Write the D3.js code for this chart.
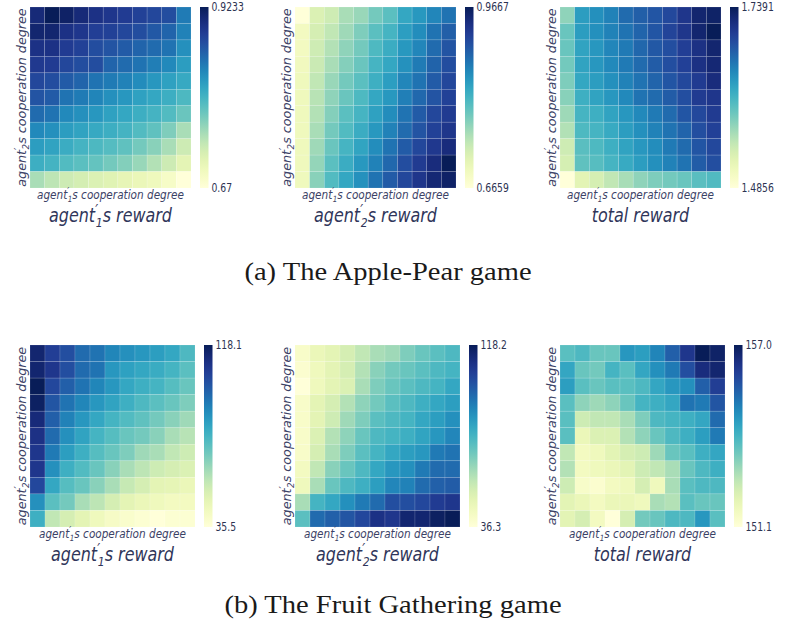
<!DOCTYPE html>
<html>
<head>
<meta charset="utf-8">
<script src="https://cdn.jsdelivr.net/npm/d3@7"></script>
<style>
  body { margin: 0; background: #fff; }
  svg { display: block; }
</style>
</head>
<body>
<svg id="fig" width="790" height="638"></svg>
<script>
// cooperation degree levels (hidden ticks), 11 x 11 grid
var coopDegrees = ["0.0", "0.1", "0.2", "0.3", "0.4", "0.5", "0.6", "0.7", "0.8", "0.9", "1.0"];

// rows: top row first (agent2 cooperation, high -> low), cols: agent1 cooperation low -> high
// Apple-Pear game
var apAgent1Reward = [
  [0.906, 0.9233, 0.916, 0.906, 0.898, 0.893, 0.888, 0.883, 0.878, 0.873, 0.842],
  [0.911, 0.911, 0.898, 0.893, 0.885, 0.883, 0.878, 0.873, 0.865, 0.857, 0.837],
  [0.898, 0.898, 0.888, 0.883, 0.873, 0.868, 0.863, 0.857, 0.852, 0.847, 0.827],
  [0.890, 0.888, 0.878, 0.873, 0.873, 0.857, 0.852, 0.847, 0.840, 0.832, 0.817],
  [0.878, 0.873, 0.863, 0.857, 0.847, 0.842, 0.837, 0.830, 0.822, 0.814, 0.807],
  [0.868, 0.863, 0.847, 0.842, 0.835, 0.827, 0.822, 0.814, 0.809, 0.802, 0.792],
  [0.852, 0.847, 0.832, 0.827, 0.822, 0.814, 0.809, 0.802, 0.797, 0.789, 0.776],
  [0.832, 0.827, 0.817, 0.812, 0.807, 0.802, 0.797, 0.789, 0.781, 0.766, 0.746],
  [0.817, 0.812, 0.804, 0.797, 0.792, 0.787, 0.781, 0.771, 0.761, 0.746, 0.726],
  [0.802, 0.797, 0.789, 0.784, 0.779, 0.771, 0.764, 0.754, 0.741, 0.726, 0.708],
  [0.746, 0.736, 0.726, 0.721, 0.716, 0.711, 0.705, 0.700, 0.695, 0.685, 0.670]
];
var apAgent2Reward = [
  [0.6659, 0.720, 0.732, 0.756, 0.765, 0.786, 0.801, 0.831, 0.846, 0.861, 0.876],
  [0.690, 0.726, 0.741, 0.762, 0.780, 0.801, 0.816, 0.840, 0.855, 0.876, 0.892],
  [0.690, 0.732, 0.750, 0.771, 0.786, 0.810, 0.825, 0.846, 0.861, 0.882, 0.901],
  [0.693, 0.735, 0.756, 0.777, 0.792, 0.816, 0.831, 0.852, 0.870, 0.889, 0.907],
  [0.696, 0.741, 0.765, 0.786, 0.801, 0.822, 0.840, 0.861, 0.876, 0.895, 0.913],
  [0.696, 0.747, 0.771, 0.792, 0.810, 0.831, 0.846, 0.867, 0.885, 0.901, 0.919],
  [0.696, 0.750, 0.777, 0.801, 0.816, 0.837, 0.855, 0.876, 0.895, 0.913, 0.925],
  [0.696, 0.756, 0.786, 0.807, 0.825, 0.846, 0.864, 0.882, 0.901, 0.919, 0.931],
  [0.696, 0.762, 0.792, 0.816, 0.834, 0.855, 0.876, 0.895, 0.913, 0.928, 0.943],
  [0.696, 0.768, 0.801, 0.825, 0.846, 0.864, 0.885, 0.907, 0.925, 0.943, 0.9667],
  [0.696, 0.774, 0.807, 0.831, 0.852, 0.876, 0.895, 0.913, 0.931, 0.949, 0.958]
];
var apTotalReward = [
  [1.574, 1.633, 1.643, 1.653, 1.668, 1.676, 1.683, 1.693, 1.709, 1.727, 1.731],
  [1.592, 1.633, 1.643, 1.653, 1.663, 1.673, 1.683, 1.696, 1.709, 1.727, 1.7391],
  [1.592, 1.628, 1.638, 1.650, 1.658, 1.671, 1.681, 1.688, 1.701, 1.714, 1.727],
  [1.587, 1.628, 1.638, 1.648, 1.658, 1.668, 1.678, 1.688, 1.699, 1.714, 1.724],
  [1.582, 1.625, 1.633, 1.643, 1.653, 1.663, 1.673, 1.683, 1.693, 1.704, 1.719],
  [1.577, 1.617, 1.628, 1.638, 1.648, 1.663, 1.668, 1.678, 1.688, 1.704, 1.709],
  [1.567, 1.612, 1.617, 1.628, 1.638, 1.648, 1.658, 1.668, 1.683, 1.693, 1.704],
  [1.557, 1.607, 1.612, 1.622, 1.633, 1.643, 1.653, 1.663, 1.673, 1.688, 1.699],
  [1.541, 1.600, 1.607, 1.617, 1.628, 1.638, 1.645, 1.658, 1.668, 1.683, 1.693],
  [1.536, 1.597, 1.602, 1.612, 1.622, 1.633, 1.643, 1.653, 1.663, 1.678, 1.688],
  [1.4856, 1.524, 1.536, 1.549, 1.562, 1.574, 1.582, 1.587, 1.592, 1.600, 1.605]
];

// Fruit Gathering game
var fgAgent1Reward = [
  [114.0, 105.7, 101.6, 95.0, 93.3, 89.2, 86.7, 85.1, 83.4, 80.9, 75.1],
  [114.0, 108.2, 101.6, 95.0, 93.3, 85.1, 82.6, 80.9, 79.3, 76.8, 72.7],
  [118.1, 103.2, 97.5, 93.3, 89.2, 85.1, 80.9, 78.5, 76.8, 73.5, 70.2],
  [116.4, 99.9, 93.3, 89.2, 85.1, 81.8, 78.5, 75.1, 72.7, 70.2, 66.9],
  [112.3, 97.5, 90.0, 85.1, 80.9, 76.8, 74.3, 71.8, 68.5, 65.2, 61.9],
  [109.8, 95.0, 86.7, 81.8, 76.8, 73.5, 70.2, 68.5, 65.2, 60.3, 57.8],
  [108.2, 91.7, 83.4, 78.5, 73.5, 70.2, 66.9, 61.9, 60.3, 56.2, 53.7],
  [108.2, 86.7, 78.5, 74.3, 70.2, 65.2, 60.3, 57.0, 53.7, 52.0, 50.4],
  [103.2, 80.9, 73.5, 70.2, 65.2, 60.3, 55.3, 52.0, 47.9, 47.1, 45.4],
  [86.7, 72.7, 68.5, 60.3, 57.0, 52.0, 47.9, 45.4, 43.8, 42.1, 42.1],
  [78.5, 56.2, 52.0, 47.9, 43.8, 40.5, 38.8, 37.2, 35.5, 37.2, 37.2]
];
var fgAgent2Reward = [
  [40.4, 46.1, 48.6, 52.7, 56.8, 60.9, 62.5, 67.4, 70.7, 73.2, 75.6],
  [38.8, 44.5, 48.6, 52.7, 59.2, 65.8, 69.1, 70.7, 73.2, 75.6, 77.3],
  [36.3, 44.5, 48.6, 51.0, 60.9, 67.4, 70.7, 73.2, 75.6, 77.3, 81.3],
  [40.4, 48.6, 52.7, 59.2, 65.0, 69.1, 73.2, 75.6, 78.9, 81.3, 83.8],
  [40.4, 48.6, 54.3, 62.5, 67.4, 73.2, 75.6, 77.3, 81.3, 83.8, 87.1],
  [40.4, 51.0, 59.2, 65.0, 70.7, 75.6, 77.3, 78.9, 82.2, 85.4, 89.5],
  [40.4, 52.7, 60.9, 67.4, 73.2, 77.3, 81.3, 83.8, 85.4, 92.0, 93.6],
  [42.9, 56.8, 65.8, 70.7, 75.6, 81.3, 85.4, 87.1, 92.0, 95.3, 95.3],
  [44.5, 60.9, 70.7, 75.6, 78.9, 83.8, 89.5, 90.4, 95.3, 97.7, 98.5],
  [60.9, 77.3, 81.3, 87.1, 92.0, 95.3, 101.8, 101.8, 103.5, 106.7, 108.4],
  [73.2, 95.3, 97.7, 100.2, 103.5, 110.0, 108.4, 114.1, 114.1, 116.6, 118.2]
];
var fgTotalReward = [
  [153.76, 153.93, 153.58, 153.58, 154.64, 154.52, 154.94, 155.53, 156.29, 157.00, 156.82],
  [154.35, 153.58, 153.46, 154.05, 153.76, 154.35, 154.76, 155.11, 155.82, 156.53, 156.71],
  [154.52, 153.76, 153.58, 153.76, 153.76, 153.93, 154.35, 154.64, 154.76, 155.53, 156.12],
  [153.76, 153.17, 152.99, 153.17, 153.58, 154.05, 154.17, 154.35, 155.23, 155.11, 155.70],
  [153.76, 152.40, 152.58, 152.58, 152.87, 153.34, 153.93, 154.05, 154.17, 154.35, 155.35],
  [153.76, 151.81, 152.16, 152.16, 152.75, 153.17, 153.58, 153.93, 154.17, 154.52, 155.11],
  [152.58, 151.57, 151.69, 151.99, 152.28, 152.40, 152.99, 153.58, 153.76, 154.17, 154.35],
  [152.75, 151.57, 151.69, 151.81, 151.99, 152.40, 152.58, 152.87, 153.58, 153.93, 154.17],
  [152.40, 151.40, 151.28, 151.57, 151.69, 152.28, 151.69, 152.87, 153.76, 153.93, 153.93],
  [151.99, 151.81, 151.57, 151.81, 151.81, 151.69, 152.87, 152.75, 153.76, 153.58, 153.58],
  [151.99, 152.28, 151.57, 151.10, 152.28, 153.46, 153.58, 153.93, 153.93, 154.64, 153.76]
];

// colorbar end labels (min, max)
var apAgent1Ticks = ["0.67", "0.9233"];
var apAgent2Ticks = ["0.6659", "0.9667"];
var apTotalTicks = ["1.4856", "1.7391"];
var fgAgent1Ticks = ["35.5", "118.1"];
var fgAgent2Ticks = ["36.3", "118.2"];
var fgTotalTicks = ["151.1", "157.0"];

var captions = ["(a) The Apple-Pear game", "(b) The Fruit Gathering game"];

// layout
var colX = [30, 295, 560];
var rowY = [7, 345];
var gridW = [161, 165], gridH = [181, 182];
var cbGap = 9, cbW = 8.5;
var labelColor = "#3c4266", titleColor = "#30365a", tickColor = "#2c3352";
var sansK = 0.84;   // horizontal squeeze of the sans text

var panels = [
  {values: apAgent1Reward, ticks: apAgent1Ticks, sub: "1", rest: "s reward", row: 0, col: 0},
  {values: apAgent2Reward, ticks: apAgent2Ticks, sub: "2", rest: "s reward", row: 0, col: 1},
  {values: apTotalReward, ticks: apTotalTicks, sub: null, rest: "total reward", row: 0, col: 2},
  {values: fgAgent1Reward, ticks: fgAgent1Ticks, sub: "1", rest: "s reward", row: 1, col: 0},
  {values: fgAgent2Reward, ticks: fgAgent2Ticks, sub: "2", rest: "s reward", row: 1, col: 1},
  {values: fgTotalReward, ticks: fgTotalTicks, sub: null, rest: "total reward", row: 1, col: 2}
];

var svg = d3.select("#fig");

// shared YlGnBu gradient for the colorbars
var grad = svg.append("defs").append("linearGradient")
    .attr("id", "ylgnbu")
    .attr("x1", 0).attr("y1", 1).attr("x2", 0).attr("y2", 0);
grad.selectAll("stop")
    .data(d3.range(0, 1.0001, 0.05))
  .enter().append("stop")
    .attr("offset", function(t) { return t; })
    .attr("stop-color", function(t) { return d3.interpolateYlGnBu(t); });

// text in a squeezed frame
function squeezed(parent, x, y, k, angle) {
  var tr = "translate(" + x + "," + y + ")" + (angle ? " rotate(" + angle + ")" : "") + " scale(" + k + ",1)";
  return parent.append("g").attr("transform", tr).append("text");
}

// agent'_n + rest, prime over the subscript
function agentText(text, sub, rest, fs) {
  text.append("tspan").text("agent");
  text.append("tspan").attr("font-size", fs * 0.8).attr("dy", -fs * 0.34).text("\u2032");
  text.append("tspan").attr("font-size", fs * 0.68).attr("dx", -fs * 0.14).attr("dy", fs * 0.6).text(sub);
  text.append("tspan").attr("dy", -fs * 0.26).text(rest);
}

panels.forEach(function(p) {
  var gx = colX[p.col], gy = rowY[p.row], w = gridW[p.row], h = gridH[p.row];
  var g = svg.append("g").attr("transform", "translate(" + gx + "," + gy + ")");

  var x = d3.scaleBand().domain(coopDegrees).range([0, w]);
  var y = d3.scaleBand().domain(coopDegrees.slice().reverse()).range([0, h]);
  var domain = p.ticks.map(Number);
  var color = d3.scaleSequential(d3.interpolateYlGnBu).domain(domain);

  var cells = [];
  p.values.forEach(function(row, i) {
    row.forEach(function(v, j) {
      cells.push({a2: coopDegrees[coopDegrees.length - 1 - i], a1: coopDegrees[j], v: v});
    });
  });

  g.selectAll("rect.cell")
      .data(cells)
    .enter().append("rect")
      .attr("class", "cell")
      .attr("x", function(d) { return x(d.a1); })
      .attr("y", function(d) { return y(d.a2); })
      .attr("width", x.bandwidth())
      .attr("height", y.bandwidth())
      .attr("fill", function(d) { return color(d.v); })
      .attr("stroke", "#ffffff")
      .attr("stroke-opacity", 0.22)
      .attr("stroke-width", 0.6);

  // colorbar
  var cbScale = d3.scaleLinear().domain(domain).range([h, 0]);
  var cb = g.append("g").attr("transform", "translate(" + (w + cbGap) + ",0)");
  cb.append("rect")
      .attr("width", cbW)
      .attr("height", h)
      .attr("fill", "url(#ylgnbu)");
  p.ticks.forEach(function(t) {
    squeezed(cb, cbW + 3, cbScale(+t), 0.77)
        .attr("font-family", "DejaVu Sans")
        .attr("font-size", 12)
        .attr("dominant-baseline", "central")
        .attr("fill", tickColor)
        .text(t);
  });

  // y label
  var yl = squeezed(g, -4, h / 2, 1.02, -90)
      .attr("font-family", "DejaVu Sans")
      .attr("font-style", "italic")
      .attr("font-size", 12.5)
      .attr("text-anchor", "middle")
      .attr("fill", labelColor);
  agentText(yl, "2", "s cooperation degree", 12.5);

  // x label
  var xl = squeezed(g, w / 2, h + 11, sansK)
      .attr("font-family", "DejaVu Sans")
      .attr("font-style", "italic")
      .attr("font-size", 12.5)
      .attr("text-anchor", "middle")
      .attr("fill", labelColor);
  agentText(xl, "1", "s cooperation degree", 12.5);

  // title under the panel
  var tl = squeezed(g, w / 2, h + 34, sansK)
      .attr("font-family", "DejaVu Sans")
      .attr("font-style", "italic")
      .attr("font-size", 19)
      .attr("text-anchor", "middle")
      .attr("fill", titleColor);
  if (p.sub) agentText(tl, p.sub, p.rest, 19);
  else tl.text(p.rest);
});

// sub-figure captions
var capPos = [[388, 280], [393, 613]];
captions.forEach(function(c, i) {
  squeezed(svg, capPos[i][0], capPos[i][1], 1.12)
      .attr("font-family", "'Liberation Serif', 'Times New Roman', serif")
      .attr("font-size", 25.5)
      .attr("text-anchor", "middle")
      .attr("fill", "#1a1a1a")
      .text(c);
});
</script>
</body>
</html>
